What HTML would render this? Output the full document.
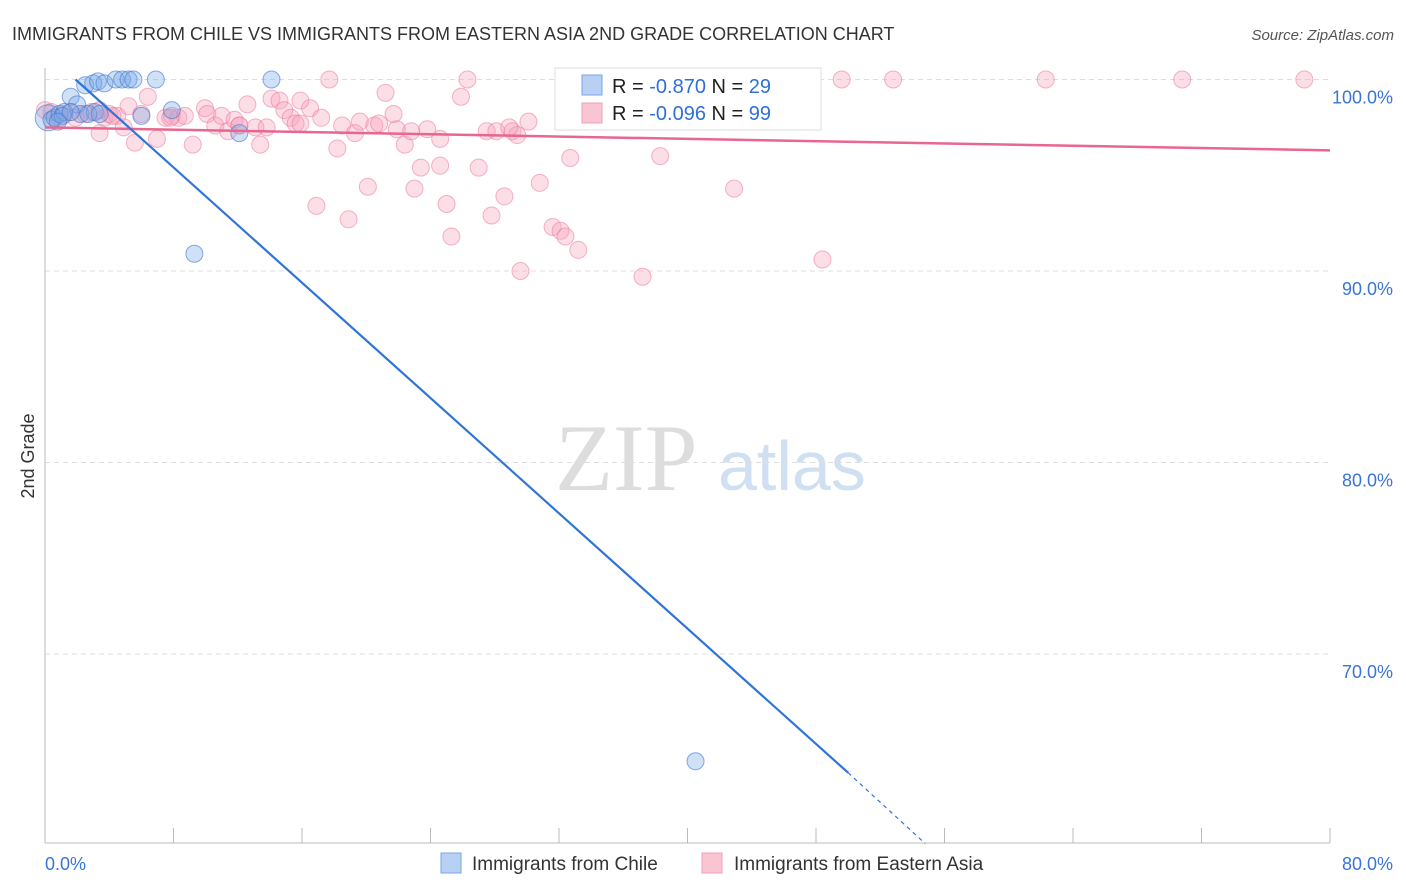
<!DOCTYPE html>
<html><head><meta charset="utf-8"><style>
body{margin:0;background:#fff;font-family:"Liberation Sans",sans-serif}
</style></head><body>
<svg id="c" width="1406" height="892" style="display:block">
<text x="12" y="40" font-size="18" fill="#333">IMMIGRANTS FROM CHILE VS IMMIGRANTS FROM EASTERN ASIA 2ND GRADE CORRELATION CHART</text>
<text x="1394" y="40" font-size="15" fill="#555" font-style="italic" text-anchor="end">Source: ZipAtlas.com</text>
<text x="34" y="456" font-size="18" fill="#333" transform="rotate(-90 34 456)" text-anchor="middle">2nd Grade</text>
<text x="555" y="490" font-size="95" fill="#ddd" font-family="Liberation Serif,serif">ZIP</text>
<text x="718" y="490" font-size="70" fill="#cfe0f3">atlas</text>
<g id="grid"></g><g id="pts"></g><g id="lines"></g>
<g>
<rect x="555" y="68" width="266" height="62" fill="#fff" stroke="#ddd"/>
<rect x="582" y="75" width="20" height="20" fill="#b8d0f3" stroke="#7aa6e6"/>
<rect x="582" y="103" width="20" height="20" fill="#f9c5d3" stroke="#f0a0b6"/>
<text x="612" y="93" font-size="20" fill="#222">R = <tspan fill="#2f6fd6">-0.870</tspan>   N = <tspan fill="#2f6fd6">29</tspan></text>
<text x="612" y="120" font-size="20" fill="#222">R = <tspan fill="#2f6fd6">-0.096</tspan>   N = <tspan fill="#2f6fd6">99</tspan></text>
</g>
<g>
<rect x="441" y="853" width="20" height="20" fill="#b8d0f3" stroke="#7aa6e6"/>
<text x="472" y="870" font-size="19" fill="#333">Immigrants from Chile</text>
<rect x="702" y="853" width="20" height="20" fill="#f9c5d3" stroke="#f0a0b6"/>
<text x="734" y="870" font-size="19" fill="#333">Immigrants from Eastern Asia</text>
</g>
</svg>
<script>
const yTicks=[100,90,80,70];
const xTickLabels=["0.0%","80.0%"];
const chileX=[0.2,0.4,0.6,0.9,1.2,1.6,2.0,2.5,3.0,3.3,3.7,4.4,4.8,5.2,5.5,6.9,14.1,7.9,6.0,12.1,9.3,40.5,2.2,3.1,1.1,1.6,0.8,2.7,3.4];
const chileY=[98.0,97.9,98.0,98.2,98.3,99.1,98.7,99.7,99.8,99.9,99.8,100,100,100,100,100,100,98.4,98.1,97.2,90.9,64.4,98.2,98.3,98.1,98.3,97.8,98.2,98.2];
const asiaX=[0.0,0.4,0.9,1.2,1.6,1.9,2.5,2.9,3.4,3.7,4.0,4.5,4.9,5.2,5.6,6.0,6.4,6.97,7.5,7.9,8.3,8.7,9.2,9.96,10.1,10.6,11.0,11.4,11.8,12.1,12.6,13.1,13.4,13.8,14.1,14.6,14.9,15.3,15.6,15.9,16.5,16.9,17.2,17.7,18.2,18.5,18.9,19.3,19.6,20.1,20.5,20.8,21.2,21.7,21.9,22.4,22.8,23.0,23.4,23.8,24.6,25.0,25.3,25.9,26.3,27.0,27.5,27.8,28.1,28.6,29.1,29.4,29.6,30.1,30.8,31.6,32.1,32.4,32.7,33.2,36.6,37.2,38.3,42.3,42.9,48.4,49.6,52.8,62.3,70.8,78.4,3.4,4.2,7.8,12.1,15.9,24.6,28.9,35.8];
const asiaY=[98.4,98.3,98.0,98.2,98.3,98.0,98.2,98.3,97.2,98.0,98.2,98.1,97.5,98.6,96.7,98.2,99.1,96.9,98.0,98.1,98.0,98.1,96.6,98.5,98.2,97.6,98.1,97.3,97.9,97.6,98.7,97.5,96.6,97.5,99.0,98.9,98.4,98.0,97.7,97.7,98.5,93.4,98.0,100,96.4,97.6,92.7,97.2,97.8,94.4,97.6,97.7,99.3,98.2,97.4,96.6,97.3,94.3,95.4,97.4,95.5,93.5,91.8,99.1,100,95.4,97.3,92.9,97.3,93.9,97.3,97.1,90.0,97.8,94.6,92.3,92.1,91.8,95.9,91.1,100,89.7,96.0,100,94.3,90.6,100,100,100,100,100,98.4,98.1,98.0,97.6,98.9,96.9,97.5,100];
const X=v=>45+v/80*1285, Y=v=>79.5+(100-v)*19.15;
const NS="http://www.w3.org/2000/svg";
function mk(tag,attrs,parent,txt){const e=document.createElementNS(NS,tag);for(const k in attrs)e.setAttribute(k,attrs[k]);if(txt!==undefined)e.textContent=txt;parent.appendChild(e);return e;}
const grid=document.getElementById('grid');
yTicks.forEach(t=>{
 const l=mk('line',{x1:45,x2:1330,y1:Y(t),y2:Y(t),stroke:'#ddd','stroke-dasharray':'5,4'},grid);
 
 
 const tx=mk('text',{x:1393,y:Y(t)+24,'font-size':18,fill:'#3a74d6','text-anchor':'end'},grid,t.toFixed(1)+'%');
 
 
});
const ax=mk('line',{x1:45,x2:45,y1:68,y2:843,stroke:'#bbb'},grid);


const bx=mk('line',{x1:45,x2:1330,y1:843,y2:843,stroke:'#bbb'},grid);


for(let i=0;i<=10;i++){const x=X(i*8);const t=mk('line',{x1:x,x2:x,y1:828,y2:843,stroke:'#bbb'},grid);
 
 }
const xl0=mk('text',{x:45,y:870,'font-size':18,fill:'#3a74d6'},grid,xTickLabels[0]);


const xl1=mk('text',{x:1393,y:870,'font-size':18,fill:'#3a74d6','text-anchor':'end'},grid,xTickLabels[1]);


const pts=document.getElementById('pts');
asiaX.forEach((v,i)=>{const c=mk('circle',{cx:X(v),cy:Y(asiaY[i]),r:8.5,fill:'rgba(246,160,185,0.35)',stroke:'rgba(236,120,155,0.55)'},pts);
 
 });
chileX.forEach((v,i)=>{const c=mk('circle',{cx:X(v),cy:Y(chileY[i]),r:i==0?13:8.5,fill:'rgba(120,165,230,0.35)',stroke:'rgba(60,120,210,0.6)'},pts);
 
 });
const lines=document.getElementById('lines');
const pl=mk('line',{x1:X(0),y1:Y(97.5),x2:X(80),y2:Y(96.3),stroke:'#e8668f','stroke-width':2.5},lines);


const bl=mk('line',{x1:X(1.9),y1:Y(100),x2:X(50.0),y2:Y(63.8),stroke:'#2f74d8','stroke-width':2.2},lines);


const bd=mk('line',{x1:X(50.0),y1:Y(63.8),x2:X(54.8),y2:Y(60.1),stroke:'#2f74d8','stroke-width':1.2,'stroke-dasharray':'4,4'},lines);


</script>
</body></html>
